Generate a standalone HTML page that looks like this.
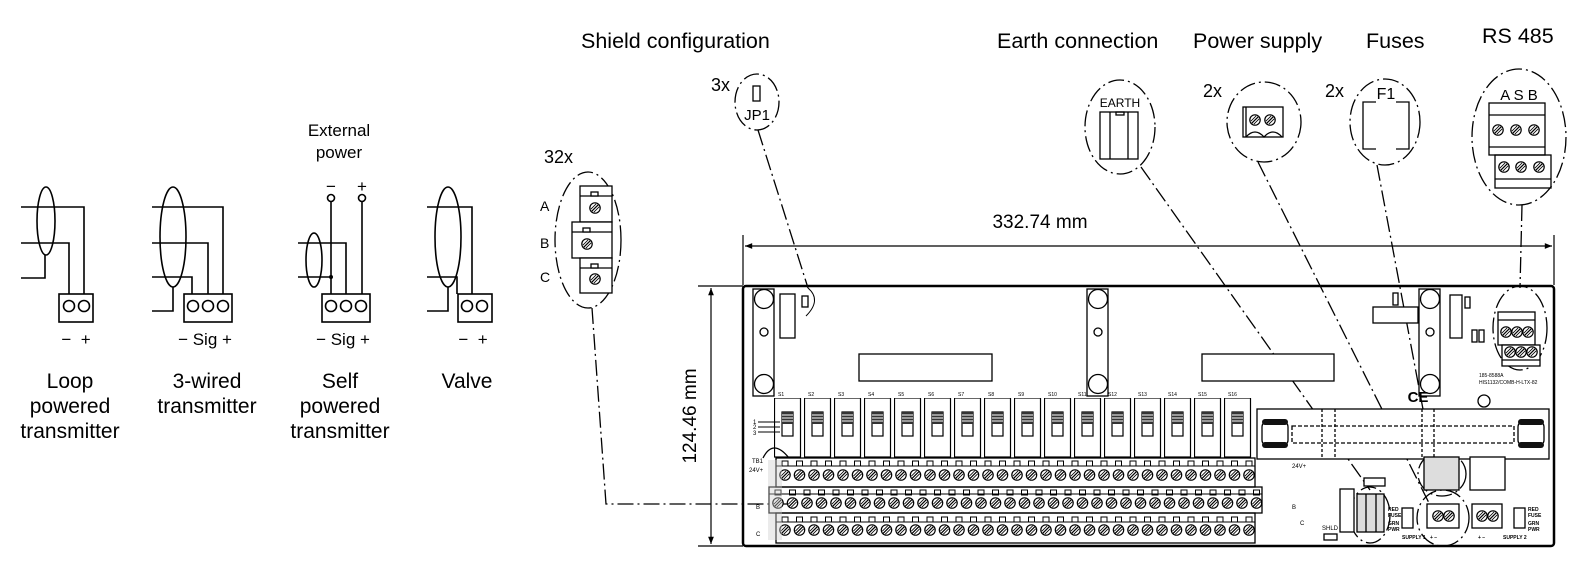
<!DOCTYPE html>
<html><head><meta charset="utf-8"><style>
html,body{margin:0;padding:0;background:#fff;}
svg{display:block;font-family:"Liberation Sans",Arial,sans-serif;}
</style></head><body>
<svg width="1594" height="585" viewBox="0 0 1594 585" xmlns="http://www.w3.org/2000/svg">
<defs>
<g id="screw"><circle r="5.2" fill="#fff" stroke="#000" stroke-width="1.2"/><line x1="-3.2" y1="3.2" x2="3.2" y2="-3.2" stroke="#000" stroke-width="1.2"/><line x1="-4.2" y1="1.2" x2="1.2" y2="-4.2" stroke="#000" stroke-width="0.8"/><line x1="-1.2" y1="4.2" x2="4.2" y2="-1.2" stroke="#000" stroke-width="0.8"/></g>
<pattern id="rowA" x="778" y="458" width="14.5" height="30" patternUnits="userSpaceOnUse">
  <rect x="4" y="3" width="6" height="5" fill="#fff" stroke="#000" stroke-width="1"/>
  <use href="#screw" x="7" y="17"/>
</pattern>
<pattern id="rowB" x="771" y="487" width="14.5" height="30" patternUnits="userSpaceOnUse">
  <rect x="4" y="3" width="6" height="5" fill="#fff" stroke="#000" stroke-width="1"/>
  <use href="#screw" x="7" y="16"/>
</pattern>
<pattern id="rowC" x="778" y="513" width="14.5" height="30" patternUnits="userSpaceOnUse">
  <rect x="4" y="4" width="6" height="5" fill="#fff" stroke="#000" stroke-width="1"/>
  <use href="#screw" x="7" y="17"/>
</pattern>
<pattern id="sw" x="774" y="398" width="30" height="60" patternUnits="userSpaceOnUse">
  <rect x="0.5" y="0" width="26" height="59" fill="#fff" stroke="#000" stroke-width="1.2"/>
  <rect x="8" y="14" width="11" height="24" fill="#fff" stroke="#000" stroke-width="1.2"/>
  <rect x="8" y="14" width="11" height="12" fill="#333"/>
  <line x1="8" y1="17" x2="19" y2="17" stroke="#fff" stroke-width="1"/>
  <line x1="8" y1="20" x2="19" y2="20" stroke="#fff" stroke-width="1"/>
  <line x1="8" y1="23" x2="19" y2="23" stroke="#fff" stroke-width="1"/>
</pattern>
<marker id="ar" viewBox="0 0 10 10" refX="10" refY="5" markerWidth="10" markerHeight="6" orient="auto-start-reverse"><path d="M0,1 L10,5 L0,9 z" fill="#000"/></marker>
</defs>

<g fill="none" stroke="#000" stroke-width="1.6">
<ellipse cx="46" cy="221" rx="9" ry="34"/>
<polyline points="21,207 84,207 84,294"/>
<polyline points="21,243 69,243 69,294"/>
<polyline points="21,278 45,278 45,255"/>
<rect x="59" y="294" width="34" height="28"/>
<circle cx="69" cy="306" r="5.5"/><circle cx="84" cy="306" r="5.5"/>
<ellipse cx="173" cy="237" rx="13" ry="50"/>
<polyline points="152,207 223,207 223,294"/>
<polyline points="152,243 208,243 208,294"/>
<polyline points="152,277 192,277 192,294"/>
<polyline points="152,311 173,311 173,287"/>
<rect x="184" y="294" width="48" height="28"/>
<circle cx="193" cy="306" r="5.5"/><circle cx="208" cy="306" r="5.5"/><circle cx="223" cy="306" r="5.5"/>
<ellipse cx="314" cy="260" rx="8" ry="27"/>
<line x1="331" y1="202" x2="331" y2="294"/>
<line x1="362" y1="202" x2="362" y2="294"/>
<circle cx="331" cy="198" r="3.5"/><circle cx="362" cy="198" r="3.5"/>
<polyline points="298,243 346,243 346,294"/>
<line x1="298" y1="277" x2="331" y2="277"/>
<rect x="322" y="294" width="48" height="28"/>
<circle cx="331" cy="306" r="5.5"/><circle cx="346" cy="306" r="5.5"/><circle cx="361" cy="306" r="5.5"/>
<ellipse cx="448" cy="237" rx="13" ry="50"/>
<polyline points="427,207 472,207 472,294"/>
<polyline points="427,277 457,277 457,294"/>
<polyline points="427,311 448,311 448,287"/>
<rect x="458" y="294" width="34" height="28"/>
<circle cx="467" cy="306" r="5.5"/><circle cx="482" cy="306" r="5.5"/>
</g>
<circle cx="331" cy="277" r="2" fill="#000"/>

<g font-size="21" text-anchor="middle" fill="#000">
<text x="70" y="388">Loop</text><text x="70" y="413">powered</text><text x="70" y="438">transmitter</text>
<text x="207" y="388">3-wired</text><text x="207" y="413">transmitter</text>
<text x="340" y="388">Self</text><text x="340" y="413">powered</text><text x="340" y="438">transmitter</text>
<text x="467" y="388">Valve</text>
</g>
<g font-size="17" text-anchor="middle">
<text x="76" y="345">−&#160;&#160;+</text>
<text x="205" y="345">− Sig +</text>
<text x="343" y="345">− Sig +</text>
<text x="473" y="345">−&#160;&#160;+</text>
<text x="339" y="136">External</text><text x="339" y="158">power</text>
<text x="331" y="192">−</text><text x="362" y="192">+</text>
</g>

<g font-size="21.5">
<text x="581" y="48">Shield configuration</text>
<text x="997" y="48">Earth connection</text>
<text x="1193" y="48">Power supply</text>
<text x="1366" y="48">Fuses</text>
<text x="1482" y="43">RS 485</text>
<text x="544" y="163" font-size="18">32x</text>
<text x="711" y="91" font-size="18">3x</text>
<text x="1203" y="97" font-size="18">2x</text>
<text x="1325" y="97" font-size="18">2x</text>
<text x="1040" y="228" font-size="19" text-anchor="middle">332.74 mm</text>
<text transform="translate(696,416) rotate(-90)" font-size="19" text-anchor="middle">124.46 mm</text>
</g>

<g fill="none" stroke="#000" stroke-width="1.3" stroke-dasharray="16,4,2,4">
<ellipse cx="588" cy="240" rx="33" ry="68"/>
<ellipse cx="757" cy="102" rx="22" ry="28"/>
<ellipse cx="1120" cy="127" rx="35" ry="47"/>
<ellipse cx="1264" cy="122" rx="37" ry="40"/>
<ellipse cx="1385" cy="122" rx="35" ry="43"/>
<ellipse cx="1519" cy="137" rx="47" ry="68"/>
<polyline points="592,308 606,504 790,504"/>
<line x1="758" y1="130" x2="808" y2="288"/>
<line x1="1141" y1="167" x2="1370" y2="490"/>
<line x1="1258" y1="162" x2="1430" y2="505"/>
<line x1="1377" y1="165" x2="1432" y2="457"/>
<line x1="1522" y1="205" x2="1520" y2="288"/>
<ellipse cx="1520" cy="328" rx="27" ry="42"/>
<ellipse cx="1442" cy="474" rx="24" ry="22"/>
<ellipse cx="1443" cy="518" rx="26" ry="28"/>
<ellipse cx="1370" cy="515" rx="20" ry="28"/>
</g>

<g fill="#fff" stroke="#000" stroke-width="1.3">
<rect x="580" y="186" width="32" height="36"/>
<rect x="572" y="222" width="40" height="36"/>
<rect x="580" y="258" width="32" height="35"/>
<line x1="580" y1="196" x2="612" y2="196"/>
<line x1="572" y1="232" x2="612" y2="232"/>
<line x1="580" y1="268" x2="612" y2="268"/>
<rect x="591" y="192" width="7" height="4"/><rect x="583" y="228" width="7" height="4"/><rect x="591" y="264" width="7" height="4"/>
</g>
<use href="#screw" x="595" y="208"/><use href="#screw" x="587" y="244"/><use href="#screw" x="595" y="279"/>
<g font-size="14"><text x="540" y="211">A</text><text x="540" y="248">B</text><text x="540" y="282">C</text></g>

<rect x="753" y="86" width="7" height="15" fill="none" stroke="#000" stroke-width="1.3"/>
<text x="757" y="120" font-size="15" text-anchor="middle">JP1</text>
<text x="1120" y="107" font-size="12" text-anchor="middle">EARTH</text>
<g fill="none" stroke="#000" stroke-width="1.3">
<rect x="1100" y="112" width="38" height="47"/><line x1="1110" y1="112" x2="1110" y2="159"/><line x1="1128" y1="112" x2="1128" y2="159"/>
<rect x="1116" y="112" width="8" height="3"/>
<rect x="1243" y="107" width="40" height="30"/><line x1="1246" y1="107" x2="1246" y2="137"/>
<path d="M1246,137 q9,-10 18,0 q9,-10 18,0"/>
<path d="M1376,102 h-13 v47 h13 M1396,102 h13 v47 h-13"/>
<rect x="1489" y="103" width="56" height="52"/><line x1="1489" y1="115" x2="1545" y2="115"/><line x1="1489" y1="147" x2="1545" y2="147"/>
<rect x="1495" y="155" width="56" height="33"/><line x1="1495" y1="179" x2="1551" y2="179"/>
</g>
<use href="#screw" x="1255" y="120"/><use href="#screw" x="1270" y="120"/>
<text x="1386" y="99" font-size="16" text-anchor="middle">F1</text>
<text x="1519" y="100" font-size="15" text-anchor="middle">A S B</text>
<use href="#screw" x="1498" y="130"/><use href="#screw" x="1516" y="130"/><use href="#screw" x="1534" y="130"/>
<use href="#screw" x="1504" y="167"/><use href="#screw" x="1521" y="167"/><use href="#screw" x="1539" y="167"/>

<g stroke="#000" stroke-width="1.2" fill="none">
<line x1="743" y1="235" x2="743" y2="285"/><line x1="1554" y1="235" x2="1554" y2="285"/>
<line x1="745" y1="246" x2="1552" y2="246" marker-start="url(#ar)" marker-end="url(#ar)"/>
<line x1="698" y1="286" x2="743" y2="286"/><line x1="698" y1="546" x2="743" y2="546"/>
<line x1="711" y1="288" x2="711" y2="544" marker-start="url(#ar)" marker-end="url(#ar)"/>
</g>

<rect x="743" y="286" width="811" height="260" rx="3" fill="none" stroke="#000" stroke-width="2.5"/>
<g fill="#fff" stroke="#000" stroke-width="1.3">
<rect x="753" y="289" width="21" height="107"/><circle cx="764" cy="299" r="9.5"/><circle cx="764" cy="332" r="4"/><circle cx="764" cy="384" r="9.5"/>
<rect x="1087" y="289" width="21" height="107"/><circle cx="1098" cy="299" r="9.5"/><circle cx="1098" cy="332" r="4"/><circle cx="1098" cy="384" r="9.5"/>
<rect x="1419" y="289" width="21" height="107"/><circle cx="1430" cy="299" r="9.5"/><circle cx="1430" cy="332" r="4"/><circle cx="1430" cy="384" r="9.5"/>
<rect x="780" y="294" width="15" height="44"/><rect x="802" y="296" width="6" height="11"/>
<rect x="859" y="354" width="133" height="27"/><rect x="1202" y="354" width="132" height="27"/>
<rect x="1373" y="307" width="45" height="16"/><rect x="1393" y="293" width="5" height="12"/>
<rect x="1450" y="295" width="12" height="43"/><rect x="1465" y="297" width="5" height="11"/>
<rect x="1472" y="330" width="5" height="12"/><rect x="1479" y="330" width="5" height="12"/>
<rect x="1498" y="312" width="37" height="33"/><line x1="1498" y1="320" x2="1535" y2="320"/>
<rect x="1502" y="345" width="38" height="21"/><line x1="1502" y1="360" x2="1540" y2="360"/>
</g>
<use href="#screw" x="1506" y="332"/><use href="#screw" x="1517" y="332"/><use href="#screw" x="1528" y="332"/>
<use href="#screw" x="1510" y="352"/><use href="#screw" x="1521" y="352"/><use href="#screw" x="1532" y="352"/>
<g font-size="5" fill="#000"><text x="1479" y="377">185-8588A</text><text x="1479" y="384">HIS1132/COMB-H-LTX-82</text></g>

<rect x="774" y="398" width="480" height="60" fill="url(#sw)"/>
<g font-size="5"><text x="778" y="396">S1</text><text x="808" y="396">S2</text><text x="838" y="396">S3</text><text x="868" y="396">S4</text><text x="898" y="396">S5</text><text x="928" y="396">S6</text><text x="958" y="396">S7</text><text x="988" y="396">S8</text><text x="1018" y="396">S9</text><text x="1048" y="396">S10</text><text x="1078" y="396">S11</text><text x="1108" y="396">S12</text><text x="1138" y="396">S13</text><text x="1168" y="396">S14</text><text x="1198" y="396">S15</text><text x="1228" y="396">S16</text></g>
<g stroke="#000" stroke-width="1"><line x1="758" y1="422" x2="780" y2="422"/><line x1="758" y1="427" x2="780" y2="427"/><line x1="758" y1="432" x2="780" y2="432"/>
<line x1="1258" y1="422" x2="1276" y2="422"/><line x1="1258" y1="427" x2="1276" y2="427"/><line x1="1258" y1="432" x2="1276" y2="432"/></g>
<g font-size="6"><text x="753" y="424">1</text><text x="753" y="429">2</text><text x="753" y="435">3</text><text x="1278" y="424">1</text><text x="1278" y="429">2</text><text x="1278" y="435">3</text>
<text x="752" y="463">TB1</text><text x="749" y="472">24V+</text><text x="756" y="509">B</text><text x="756" y="536">C</text>
<text x="1292" y="468">24V+</text><text x="1292" y="509">B</text><text x="1300" y="525">C</text><text x="1322" y="530">SHLD</text></g>

<rect x="776" y="458" width="479" height="29" fill="url(#rowA)" stroke="#000" stroke-width="1.3"/>
<line x1="776" y1="466" x2="1255" y2="466" stroke="#000"/>
<rect x="769" y="487" width="493" height="26" fill="url(#rowB)" stroke="#000" stroke-width="1.3"/>
<line x1="769" y1="494" x2="1262" y2="494" stroke="#000"/>
<rect x="776" y="513" width="479" height="30" fill="url(#rowC)" stroke="#000" stroke-width="1.3"/>
<line x1="776" y1="522" x2="1255" y2="522" stroke="#000"/>
<rect x="768" y="460" width="14" height="80" fill="#ccc" opacity="0.4"/>
<path d="M763,458 q10,-20 26,0" fill="none" stroke="#000" stroke-width="1.3"/>

<g fill="#fff" stroke="#000" stroke-width="1.3">
<rect x="1257" y="409" width="292" height="50"/>
<rect x="1292" y="426" width="222" height="17" stroke-dasharray="4,2"/>
<line x1="1322" y1="409" x2="1322" y2="459" stroke-dasharray="3,2"/><line x1="1335" y1="409" x2="1335" y2="459" stroke-dasharray="3,2"/>
<line x1="1422" y1="409" x2="1422" y2="459" stroke-dasharray="3,2"/><line x1="1434" y1="409" x2="1434" y2="459" stroke-dasharray="3,2"/>
<rect x="1262" y="421" width="26" height="25" rx="6"/><rect x="1518" y="421" width="26" height="25" rx="6"/>
<circle cx="1484" cy="401" r="6"/>
<rect x="1424" y="457" width="35" height="33" fill="#ddd"/><rect x="1470" y="457" width="35" height="33"/>
<rect x="1427" y="504" width="32" height="24"/><rect x="1472" y="504" width="30" height="24"/>
<rect x="1402" y="508" width="11" height="20"/><rect x="1514" y="508" width="11" height="20"/>
<rect x="1357" y="494" width="27" height="38" fill="#ddd"/><line x1="1366" y1="494" x2="1366" y2="532"/><line x1="1376" y1="494" x2="1376" y2="532"/>
<rect x="1364" y="478" width="21" height="8"/>
<rect x="1340" y="489" width="14" height="43"/>
<rect x="1324" y="534" width="13" height="6"/>
</g>
<g fill="#111"><rect x="1262" y="419" width="26" height="6" rx="3"/><rect x="1262" y="442" width="26" height="6" rx="3"/><rect x="1518" y="419" width="26" height="6" rx="3"/><rect x="1518" y="442" width="26" height="6" rx="3"/></g>
<use href="#screw" x="1438" y="516"/><use href="#screw" x="1449" y="516"/><use href="#screw" x="1482" y="516"/><use href="#screw" x="1493" y="516"/>
<text x="1418" y="402" font-size="15" font-weight="bold" text-anchor="middle">CE</text>
<g font-size="5" font-weight="bold"><text x="1402" y="539">SUPPLY 1</text><text x="1430" y="539">+  −</text><text x="1478" y="539">+  −</text><text x="1503" y="539">SUPPLY 2</text>
<text x="1388" y="511">RED</text><text x="1388" y="517">FUSE</text><text x="1388" y="525">GRN</text><text x="1388" y="531">PWR</text>
<text x="1528" y="511">RED</text><text x="1528" y="517">FUSE</text><text x="1528" y="525">GRN</text><text x="1528" y="531">PWR</text></g>
<path d="M808,288 q14,12 -2,28" fill="none" stroke="#000" stroke-width="1"/>
</svg>
</body></html>
